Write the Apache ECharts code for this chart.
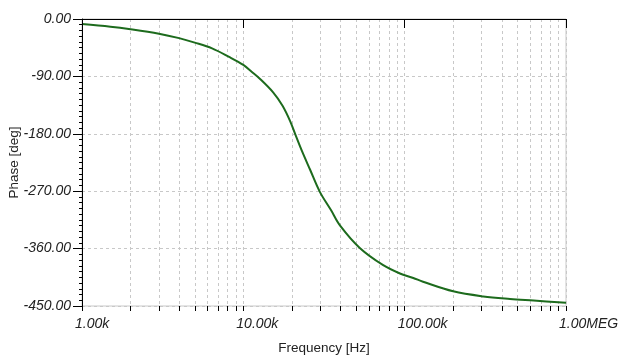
<!DOCTYPE html>
<html>
<head>
<meta charset="utf-8">
<script src="https://cdn.jsdelivr.net/npm/echarts@6/dist/echarts.min.js"></script>
<style>html,body{margin:0;padding:0;background:#fff}#c{width:619px;height:364px}</style>
</head>
<body>
<div id="c"></div>
<script>
// Data
const freqs = [1000, 1500, 2000, 3000, 4000, 5000, 6400, 8100, 10000, 11300, 12700, 15300, 17500, 19500, 21000, 23000, 25900, 29800, 35000, 39800, 52700, 73600, 93500, 113000, 130000, 200000, 307000, 450000, 630000, 1000000];
const phase = [-8, -12, -16, -23, -30, -37, -46, -59, -72, -83, -94, -115, -136, -160, -181, -206, -236, -271, -300, -324, -359, -386, -399, -406, -412, -427, -435, -439, -441.5, -445];
const xMajorTicks = [1000, 10000, 100000, 1000000];
const xTickLabels = ['1.00k', '10.00k', '100.00k', '1.00MEG'];
const xAllTicks = [];
for (let d = 1000; d < 1000000; d *= 10) { for (let m = 1; m <= 9; m++) xAllTicks.push(d * m); }
xAllTicks.push(1000000);

const chart = echarts.init(document.getElementById('c'), null, {renderer: 'canvas'});
const font = 'Liberation Sans, Arial, sans-serif';
chart.setOption({
  animation: false,
  grid: {left: 82, right: 53, top: 19, bottom: 58, show: true, borderColor: '#c8c8c8', borderWidth: 1, containLabel: false, outerBoundsMode: 'none'},
  xAxis: [{
    type: 'log', logBase: 10, min: 1000, max: 1000000, position: 'bottom',
    name: 'Frequency [Hz]', nameLocation: 'middle', nameGap: 35, nameMoveOverlap: false,
    nameTextStyle: {fontFamily: font, fontSize: 13.5, color: '#222'},
    axisLine: {show: true, lineStyle: {color: '#000', width: 1}},
    axisTick: {show: true, length: 9, lineStyle: {color: '#000'}, customValues: xMajorTicks},
    axisLabel: {show: true, customValues: xMajorTicks, fontFamily: font, fontSize: 14, fontStyle: 'italic', color: '#222', margin: 11,
      align: 'left', padding: [0, 0, 0, -7],
      formatter: v => xTickLabels[xMajorTicks.indexOf(Math.round(v))] ?? ''},
    splitLine: {show: false},
    z: 5
  }, {
    type: 'log', logBase: 10, min: 1000, max: 1000000, position: 'bottom', gridIndex: 0,
    axisLine: {show: false},
    axisTick: {show: true, length: 5, lineStyle: {color: '#000'}, customValues: xAllTicks},
    axisLabel: {show: false},
    splitLine: {show: true, lineStyle: {color: '#c8c8c8', type: [3, 3], width: 1}}
  }],
  yAxis: {
    type: 'value', min: -450, max: 0, interval: 90,
    name: 'Phase [deg]', nameLocation: 'middle', nameGap: 61, nameRotate: 90, nameMoveOverlap: false,
    nameTextStyle: {fontFamily: font, fontSize: 13.5, color: '#222'},
    axisLine: {show: true, lineStyle: {color: '#000', width: 1}},
    axisTick: {show: true, length: 9, lineStyle: {color: '#000'}},
    minorTick: {show: true, splitNumber: 10, length: 3, lineStyle: {color: '#000'}},
    axisLabel: {fontFamily: font, fontSize: 14, fontStyle: 'italic', color: '#222', margin: 11, formatter: v => v.toFixed(2)},
    splitLine: {show: true, lineStyle: {color: '#c8c8c8', type: [3, 3], width: 1}}
  },
  series: [{
    type: 'line', xAxisIndex: 0,
    data: freqs.map((f, i) => [f, phase[i]]),
    showSymbol: false, smooth: 0.35,
    lineStyle: {color: '#1d6b1d', width: 2}
  }]
});
</script>
</body>
</html>
